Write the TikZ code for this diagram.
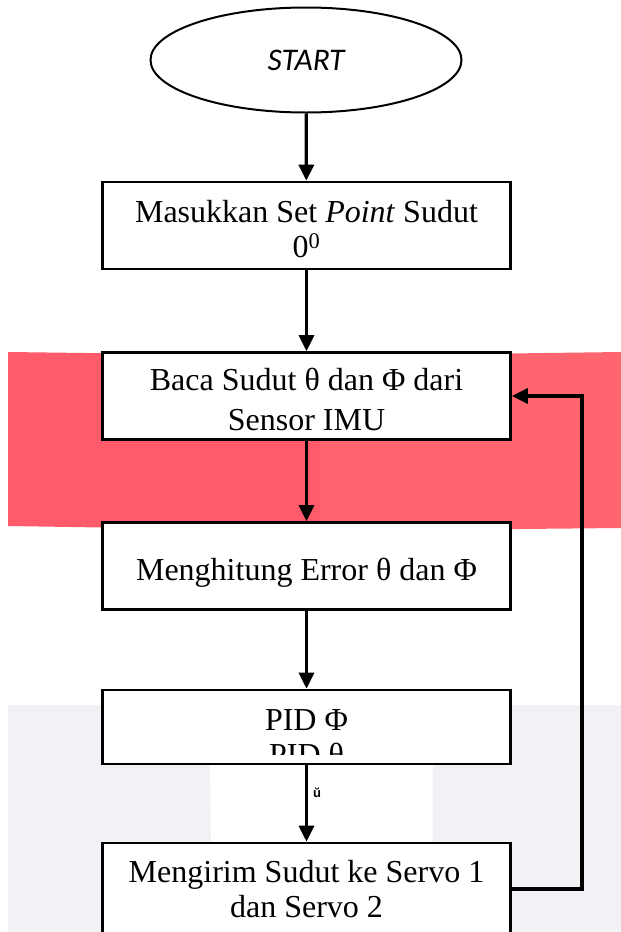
\documentclass[tikz,border=0pt]{standalone}
\usepackage{fontspec}
\setmainfont{Liberation Serif}
\newfontfamily\startfont{Carlito}
\newfontfamily\markfont{Liberation Sans}
\usetikzlibrary{shapes.geometric, arrows.meta, positioning}
\definecolor{bandred}{RGB}{255,91,106}
\definecolor{bandrose}{RGB}{255,101,110}
\definecolor{bandgrey}{RGB}{241,241,246}
\newcommand{\topstrut}[1][30pt]{\rule{0pt}{#1}}

\tikzset{
  flowbox/.style={draw=black, fill=white, line width=2.6pt, minimum width=408pt,
                  minimum height=87pt, inner sep=0pt, align=center,
                  font=\fontsize{32}{35}\selectfont},
  flowarrow/.style={line width=3.3pt, -{Triangle[width=15pt,length=16pt]}},
}

\begin{document}
\begin{tikzpicture}[x=1pt, y=-1pt]
    \useasboundingbox (0,0) rectangle (621,932);
    \clip (0,0) rectangle (621,932);

    % background bands
    \fill[bandred] (8,352) -- (320,356) -- (320,531) -- (8,526) -- cycle;
    \fill[bandrose] (320,356) -- (621,352) -- (621,528) -- (320,531) -- cycle;
    \fill[bandgrey] (8,705) -- (621,705) -- (621,932) -- (432,932) -- (433,765)
      -- (210,765) -- (212,932) -- (8,932) -- cycle;

    \node[ellipse, draw=black, line width=2pt, minimum width=311pt, minimum height=105pt,
          inner sep=0pt, font=\startfont\itshape\fontsize{31.5}{31.5}\selectfont] (start) at (306,60)
      {START};
    \node[flowbox] (setpoint) at (306.5,225.5)
      {\topstrut Masukkan Set \textit{Point} Sudut\\0\textsuperscript{0}};
    \node[flowbox, font=\fontsize{32}{40}\selectfont] (readimu) at (306.5,396)
      {\topstrut Baca Sudut θ dan Φ dari\\Sensor IMU};
    \node[flowbox] (error) at (306.5,566)
      {\topstrut[35pt]Menghitung Error θ dan Φ};
    \node[flowbox, minimum height=74pt] (pid) at (306.5,727) {};
    \begin{scope}
      \clip (pid.north west) rectangle ([yshift=11pt]pid.south east);
      \node[align=center, font=\fontsize{32}{35}\selectfont] (pidtext) at (306.5,738)
        {PID Φ\\PID θ};
    \end{scope}
    \node[flowbox, minimum height=92pt] (servo) at (306.5,889)
      {Mengirim Sudut ke Servo 1\\dan Servo 2};
    \node[font=\markfont\bfseries\fontsize{13}{13}\selectfont, inner sep=0pt] (mark) at (317,793)
      {ŭ};

    % connectors
    \coordinate (loop) at (582,0);
    \draw[flowarrow] (start) -- (setpoint);
    \draw[flowarrow] (setpoint) -- (readimu);
    \draw[flowarrow] (readimu) -- (error);
    \draw[flowarrow] (error) -- (pid);
    \draw[flowarrow] (pid) -- (servo);
    \draw[flowarrow] (servo.east) -| (loop |- readimu.east) -- (readimu.east);
  \end{tikzpicture}
\end{document}
